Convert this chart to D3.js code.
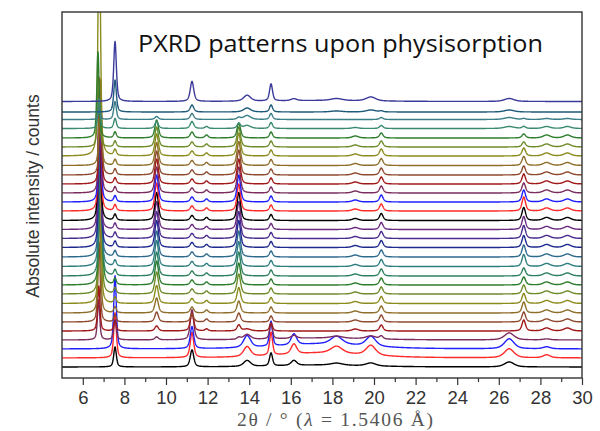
<!DOCTYPE html>
<html><head><meta charset="utf-8">
<script src="https://cdn.jsdelivr.net/npm/d3@7"></script>
<style>body{margin:0;background:#fff}svg{display:block}</style>
</head><body><svg id="chart" width="600" height="431"></svg>
<script>
// ---------- data ----------
const titleText = "PXRD patterns upon physisorption";
const xLabelParts = ["2θ / ° (", "λ", " = 1.5406 Å)"];
const yLabelText = "Absolute intensity / counts";
const xDomain = [5, 30];
const xTickValues = [6, 8, 10, 12, 14, 16, 18, 20, 22, 24, 26, 28, 30];
const xMinorTicks = [7, 9, 11, 13, 15, 17, 19, 21, 23, 25, 27, 29];

// traces listed bottom -> top
const traceColors = [
  "#000000","#ff2a2a","#2020ff","#7b2d5e","#a01818","#8e4a2e","#8e6e2a","#8b8b1e",
  "#6e8b2a","#2e7d2e","#2e8060","#2e7e80","#2e6a8e","#1e2a8e","#4a2a8e","#6a2a80",
  "#000000","#ff2a2a","#2020ff","#7b2d5e","#a01818","#8e4a2e","#8e6e2a","#8b8b1e",
  "#6e8b2a","#2e7d2e","#3a8a72","#3a7e88","#1e5a7a","#3a3a9a"];
const traceOffsets = [110,200,290,380,470,560,650,745,840,930,1020,1115,1210,1305,1395,1485,
  1575,1670,1760,1850,1940,2030,2125,2220,2310,2400,2495,2585,2660,2765];

// position of the first (guest) peak, per trace
const pos680 = [6.80,6.80,6.80,6.76,6.77,6.78,6.80,6.82,6.84,6.86,6.85,6.84,6.83,6.82,6.81,6.80,
  6.80,6.81,6.82,6.83,6.84,6.85,6.84,6.79,6.76,6.73,6.78,6.80,6.80,6.80];
const peakPositions = [6.80, 7.55, 9.55, 11.25, 11.95, 13.50, 13.90, 15.05, 16.15, 17.50, 18.20, 19.10, 19.85, 20.35, 26.50, 27.20, 28.30, 29.30];
const peakWidths    = [0.13, 0.15, 0.20, 0.20, 0.18, 0.20, 0.40, 0.17, 0.32, 5.00, 0.65, 0.35, 0.55, 0.20, 0.55, 0.20, 0.40, 0.40];

// peak heights (counts) for each trace, bottom -> top
const h680  = [0,0,0,400,450,800,1100,1500,1700,1900,1750,1700,1600,1500,1500,1400,1350,1330,1150,1100,1000,950,850,2600,700,860,300,100,0,0];
const h755  = [200,450,730,200,100,70,60,60,60,60,60,60,60,60,60,60,60,60,60,60,60,60,60,60,60,60,100,180,320,600];
const h955  = [0,0,0,30,50,100,150,180,220,240,240,260,260,270,270,280,280,280,270,260,250,240,230,220,200,180,70,30,0,0];
const h1125 = [170,250,220,300,180,80,60,50,50,50,50,50,50,50,50,50,50,50,50,50,50,50,50,50,50,60,70,60,70,200];
const h1195 = [0,0,0,0,20,30,30,30,30,30,30,30,30,30,30,30,30,30,30,30,30,30,30,30,30,30,20,0,0,0];
const h1350 = [0,0,0,20,60,90,120,160,200,220,240,250,260,270,270,280,280,270,270,260,250,250,240,230,200,150,50,20,0,0];
const h1390 = [60,100,120,50,20,0,0,0,0,0,0,0,0,0,0,0,0,0,0,0,0,0,0,0,0,0,30,40,40,60];
const h1505 = [130,230,250,150,80,60,60,60,60,60,60,60,60,60,60,60,60,60,60,60,60,60,60,60,60,60,60,60,70,170];
const h1615 = [50,100,110,30,0,0,0,0,0,0,0,0,0,0,0,0,0,0,0,0,0,0,0,0,0,0,0,0,0,20];
const h1750 = [20,50,50,20,0,0,0,0,0,0,0,0,0,0,0,0,0,0,0,0,0,0,0,0,0,0,0,0,0,10];
const h1820 = [20,70,80,20,0,0,0,0,0,0,0,0,0,0,0,0,0,0,0,0,0,0,0,0,0,0,0,0,10,20];
const h1910 = [0,0,0,0,20,20,20,20,20,20,20,20,20,20,20,20,20,20,20,20,20,20,20,20,20,20,10,0,0,0];
const h1985 = [30,100,100,30,0,0,0,0,0,0,0,0,0,0,0,0,0,0,0,0,0,0,0,0,0,0,0,0,20,40];
const h2035 = [0,0,0,30,60,70,70,70,70,70,70,70,70,70,70,70,70,70,70,70,70,70,70,70,60,50,30,20,10,0];
const h2650 = [50,90,100,70,0,0,0,0,0,0,0,0,0,0,0,0,0,0,0,0,0,0,0,0,0,0,20,20,20,30];
const h2720 = [0,0,0,0,110,100,110,100,90,80,80,120,120,120,130,130,130,140,120,100,100,90,90,80,50,40,20,10,0,0];
const h2830 = [0,30,20,10,30,30,30,30,30,30,30,30,30,30,30,30,30,30,30,30,30,30,30,30,30,30,20,10,0,0];
const h2930 = [0,0,0,0,30,30,30,30,30,30,30,30,30,30,30,30,30,30,30,30,30,30,30,30,30,30,20,10,0,0];
const peakHeights = [h680,h755,h955,h1125,h1195,h1350,h1390,h1505,h1615,h1750,h1820,h1910,h1985,h2035,h2650,h2720,h2830,h2930];

// ---------- drawing ----------
const W = 600, H = 431;
const M = {left: 62, right: 18, top: 12, bottom: 53};
const svg = d3.select("#chart");
const x = d3.scaleLinear().domain(xDomain).range([M.left, W - M.right]);
const y = d3.scaleLinear().domain([0, 3660]).range([H - M.bottom, M.top]);

svg.append("defs").append("clipPath").attr("id", "plotClip")
  .append("rect").attr("x", M.left).attr("y", M.top)
  .attr("width", W - M.left - M.right).attr("height", H - M.top - M.bottom);

function pv(t, c, w) {
  const d = (t - c) / w;
  const L = 1 / (1 + 4 * d * d);
  const G = Math.exp(-4 * Math.LN2 * d * d);
  return 0.55 * L + 0.45 * G;
}
const grid = d3.range(xDomain[0], xDomain[1] + 0.0001, 0.01);
const traces = traceOffsets.map((off, i) => grid.map(t => {
  let v = off;
  peakPositions.forEach((p, k) => {
    const h = peakHeights[k][i];
    const c = k === 0 ? pos680[i] : p;
    if (h) v += h * pv(t, c, peakWidths[k]);
  });
  return [t, v];
}));

const line = d3.line().x(d => x(d[0])).y(d => y(d[1]));
const g = svg.append("g").attr("clip-path", "url(#plotClip)");
g.selectAll("path.trace").data(traces).join("path")
  .attr("class", "trace")
  .attr("d", line)
  .attr("fill", "none")
  .attr("stroke", (d, i) => traceColors[i])
  .attr("stroke-width", 1.4)
  .attr("stroke-linejoin", "round");

// frame
svg.append("rect").attr("x", M.left).attr("y", M.top)
  .attr("width", W - M.left - M.right).attr("height", H - M.top - M.bottom)
  .attr("fill", "none").attr("stroke", "#333").attr("stroke-width", 1.4);

// axes
const axMinor = svg.append("g").attr("transform", `translate(0,${H - M.bottom})`)
  .call(d3.axisBottom(x).tickValues(xMinorTicks).tickSize(4).tickFormat(""));
axMinor.select(".domain").remove();
axMinor.selectAll("line").attr("stroke", "#333").attr("stroke-width", 1.2);

const axMajor = svg.append("g").attr("transform", `translate(0,${H - M.bottom})`)
  .call(d3.axisBottom(x).tickValues(xTickValues).tickSize(7).tickPadding(6).tickFormat(d3.format("d")));
axMajor.select(".domain").remove();
axMajor.selectAll("line").attr("stroke", "#333").attr("stroke-width", 1.2);
axMajor.selectAll("text").attr("font-family", "'Liberation Sans', Arial, sans-serif")
  .attr("font-size", 18.5).attr("fill", "#333");

// title
svg.append("text").attr("x", 138).attr("y", 52)
  .attr("font-family", "'Open Sans', 'Noto Sans', sans-serif").attr("font-size", 23)
  .attr("fill", "#111").attr("textLength", 405).attr("lengthAdjust", "spacingAndGlyphs")
  .text(titleText);

// x label
const xl = svg.append("text").attr("x", 237).attr("y", 426)
  .attr("font-family", "'Liberation Serif', 'Times New Roman', serif").attr("font-size", 19.5)
  .attr("fill", "#555").attr("textLength", 196).attr("lengthAdjust", "spacing");
xl.append("tspan").text(xLabelParts[0]);
xl.append("tspan").attr("font-style", "italic").text(xLabelParts[1]);
xl.append("tspan").text(xLabelParts[2]);

// y label
svg.append("text").attr("transform", "translate(39,196) rotate(-90)")
  .attr("text-anchor", "middle")
  .attr("font-family", "'Liberation Sans', Arial, sans-serif").attr("font-size", 17.5)
  .attr("fill", "#333").text(yLabelText);
</script></body></html>
